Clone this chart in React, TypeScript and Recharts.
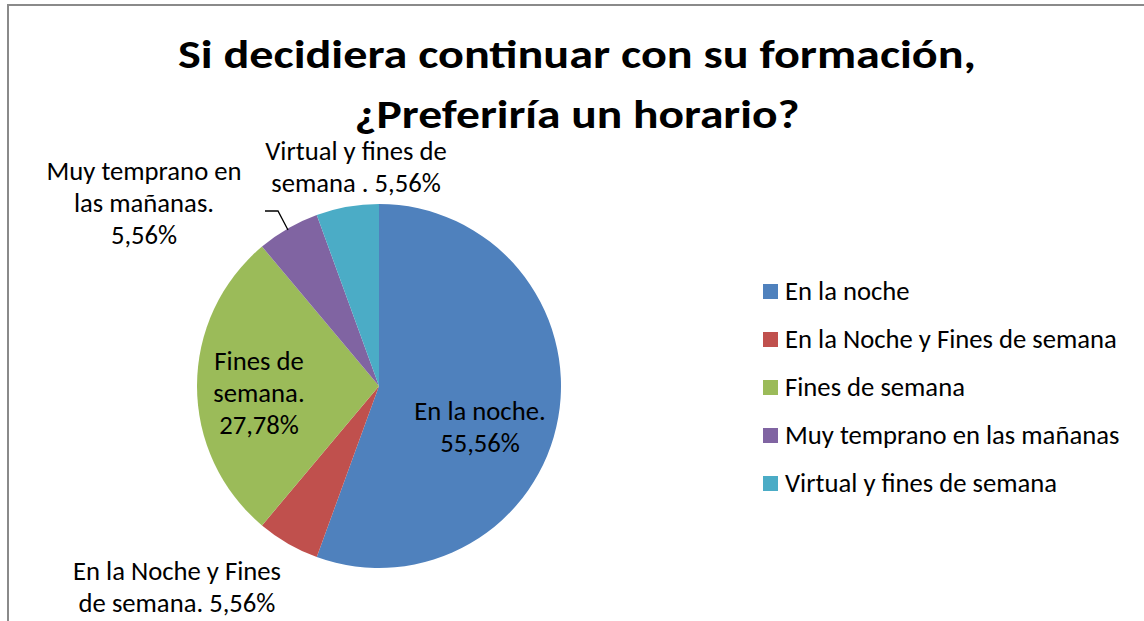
import React from 'react';
import { PieChart, Pie, Cell, Legend } from 'recharts';

const categories = [
  'En la noche',
  'En la Noche y Fines de semana',
  'Fines de semana',
  'Muy temprano en las mañanas',
  'Virtual y fines de semana',
];
const counts = [10, 1, 5, 1, 1];
const colors = ['#4F81BD', '#C0504D', '#9BBB59', '#8064A2', '#4BACC6'];
const labelTemplates = [
  ['En la noche.', '{p}'],
  ['En la Noche y Fines', 'de semana. {p}'],
  ['Fines de', 'semana.', '{p}'],
  ['Muy temprano en', 'las mañanas.', '{p}'],
  ['Virtual y fines de', 'semana . {p}'],
];
const titleLines = ['Si decidiera continuar con su formación,', '¿Preferiría un horario?'];

const data = categories.map((name, i) => ({ name, value: counts[i] }));
const total = counts.reduce((a, b) => a + b, 0);

const FONT = "Carlito, Calibri, 'Open Sans', sans-serif";
const LABEL_SIZE = 26.67;

// label placement relative to pie centre (layout, not data)
const labelLayout = [
  { dx: 101, dy: 34 },
  { dx: -202, dy: 194 },
  { dx: -120, dy: -16 },
  { dx: -235, dy: -206 },
  { dx: -23, dy: -226 },
];

const renderLabel = (props: any) => {
  const { cx, cy, index, value } = props;
  const pct = ((value / total) * 100).toFixed(2).replace('.', ',') + '%';
  const lines = labelTemplates[index].map((t) => t.replace('{p}', pct));
  const lay = labelLayout[index];
  const x = cx + lay.dx;
  const y0 = cy + lay.dy;
  return (
    <g key={`lbl-${index}`}>
      {index === 3 && (
        <polyline
          points={`${cx - 114},${cy - 175} ${cx - 101},${cy - 175} ${cx - 91},${cy - 156}`}
          fill="none"
          stroke="#000"
          strokeWidth={1.3}
        />
      )}
      <text x={x} y={y0} textAnchor="middle" fill="#000" fontFamily={FONT} fontSize={LABEL_SIZE}>
        {lines.map((l, k) => (
          <tspan key={k} x={x} y={y0 + k * 32}>
            {l}
          </tspan>
        ))}
      </text>
    </g>
  );
};

const renderLegend = (props: any) => {
  const payload = [...(props.payload || [])].sort(
    (a: any, b: any) => categories.indexOf(a.value) - categories.indexOf(b.value)
  );
  return (
    <div style={{ fontFamily: FONT, fontSize: LABEL_SIZE, color: '#000' }}>
      {payload.map((entry: any, i: number) => (
        <div key={i} style={{ display: 'flex', alignItems: 'center', height: 48 }}>
          <span
            style={{
              display: 'inline-block',
              width: 15,
              height: 15,
              background: entry.color,
              marginRight: 7,
              flexShrink: 0,
            }}
          />
          <span style={{ whiteSpace: 'nowrap' }}>{entry.value}</span>
        </div>
      ))}
    </div>
  );
};

export default function App() {
  return (
    <div
      style={{
        position: 'absolute',
        left: 0,
        top: 0,
        width: 1144,
        height: 621,
        overflow: 'hidden',
        background: '#fff',
      }}
    >
      <div
        style={{
          position: 'absolute',
          left: 7,
          top: 4,
          width: 1200,
          height: 700,
          borderTop: '2px solid #8a8a8a',
          borderLeft: '2px solid #8a8a8a',
        }}
      />
      <svg width={1144} height={150} style={{ position: 'absolute', left: 0, top: 0 }}>
        <text
          x={577}
          y={68}
          textAnchor="middle"
          fontFamily={FONT}
          fontWeight="bold"
          fontSize={41}
          fill="#000"
          textLength={798}
          lengthAdjust="spacingAndGlyphs"
        >
          {titleLines[0]}
        </text>
        <text
          x={577}
          y={128}
          textAnchor="middle"
          fontFamily={FONT}
          fontWeight="bold"
          fontSize={41}
          fill="#000"
          textLength={445}
          lengthAdjust="spacingAndGlyphs"
        >
          {titleLines[1]}
        </text>
      </svg>
      <div style={{ position: 'absolute', left: 0, top: 0 }}>
        <PieChart width={1144} height={621} margin={{ top: 0, right: 0, bottom: 0, left: 0 }}>
          <Pie
            data={data}
            dataKey="value"
            nameKey="name"
            cx={379}
            cy={386}
            outerRadius={182}
            startAngle={90}
            endAngle={-270}
            stroke="none"
            label={renderLabel}
            labelLine={false}
            isAnimationActive={false}
          >
            {data.map((d, i) => (
              <Cell key={d.name} fill={colors[i]} />
            ))}
          </Pie>
          <Legend
            layout="vertical"
            align="right"
            verticalAlign="top"
            content={renderLegend}
            wrapperStyle={{ left: 763, top: 267, width: 381, right: 'auto' }}
          />
        </PieChart>
      </div>
    </div>
  );
}
